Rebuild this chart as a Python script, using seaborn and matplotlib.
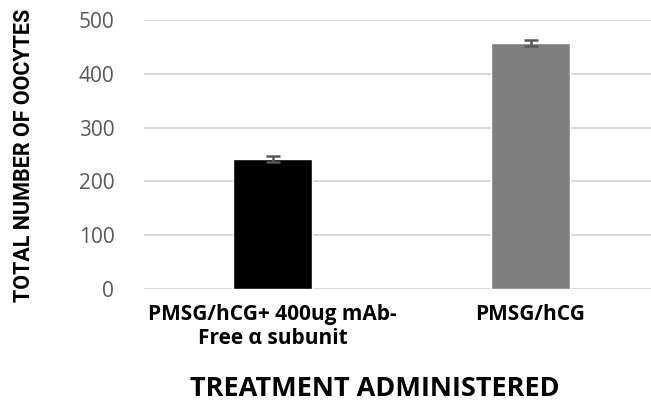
import matplotlib
matplotlib.use('Agg')
import matplotlib.pyplot as plt
import seaborn as sns
import pandas as pd

treatments = ['PMSG/hCG+ 400ug mAb-\nFree \u03b1 subunit', 'PMSG/hCG']
oocytes = [242, 457]
errors = [6, 5]
bar_colors = ['#000000', '#7f7f7f']
y_ticks = [0, 100, 200, 300, 400, 500]

sns.set_theme(style='white')
plt.rcParams['font.family'] = ['Open Sans', 'DejaVu Sans']

df = pd.DataFrame({'treatment': treatments, 'oocytes': oocytes})

fig = plt.figure(figsize=(6.51, 4.03), dpi=100)
ax = fig.add_axes([143.5 / 651, 1 - 289 / 403, 516 / 651, 269 / 403])

sns.barplot(data=df, x='treatment', y='oocytes', hue='treatment', palette=bar_colors,
            width=0.306, errorbar=None, legend=False, ax=ax, zorder=3)
ax.errorbar(range(len(oocytes)), oocytes, yerr=errors, fmt='none', ecolor='#595959',
            elinewidth=1.8, capsize=5, capthick=1.8, zorder=4)

ax.set_xlim(-0.5, 1.5)
ax.set_ylim(0, 500)
ax.set_yticks(y_ticks)
ax.yaxis.grid(True, color='#d9d9d9', linewidth=1.5, zorder=0)
ax.xaxis.grid(False)
for s in ax.spines.values():
    s.set_visible(False)
ax.tick_params(axis='y', length=0, pad=21, labelsize=15, labelcolor='#595959')
ax.tick_params(axis='x', length=0, pad=11)
for lab in ax.get_xticklabels():
    lab.set_fontweight('bold')
    lab.set_fontsize(15)
    lab.set_color('black')
    lab.set_linespacing(1.15)

ax.set_xlabel('')
ax.set_ylabel('')
fig.text(24 / 651, 1 - 155 / 403, 'TOTAL NUMBER OF OOCYTES', rotation=90, ha='center',
         va='center', fontsize=15.5, fontweight='bold', family=['Roboto', 'DejaVu Sans'],
         color='black')
fig.text(375 / 651, 1 - 389 / 403, 'TREATMENT ADMINISTERED', ha='center', va='center',
         fontsize=19.5, fontweight='bold', color='black')

fig.savefig('out.png', dpi=100)
